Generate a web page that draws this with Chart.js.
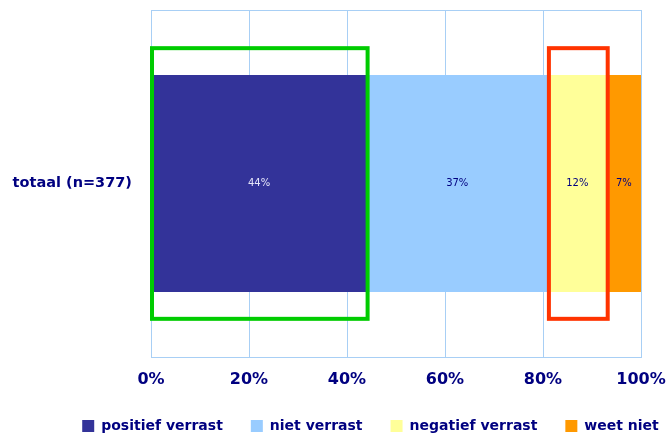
<!DOCTYPE html>
<html>
<head>
<meta charset="utf-8">
<script src="https://cdn.jsdelivr.net/npm/chart.js@4.4.1/dist/chart.umd.min.js"></script>
<style>
  html, body { margin: 0; padding: 0; background: #ffffff; }
  #wrap { width: 672px; height: 435px; }
</style>
</head>
<body>
<div id="wrap"><canvas id="c" width="672" height="435"></canvas></div>
<script>
// Survey answers, share of respondents (%)
const categories = ['totaal (n=377)'];
const seriesNames = ['positief verrast', 'niet verrast', 'negatief verrast', 'weet niet'];
const positiefVerrast = [44];
const nietVerrast = [37];
const negatiefVerrast = [12];
const weetNiet = [7];
const xTicks = [0, 20, 40, 60, 80, 100];

// Highlighted ranges on the value axis: [from, to]
const greenRange = [0, 44];
const redRange = [81, 93];

const NAVY = '#000080';
const FONT = 'DejaVu Sans';

const seriesValues = [positiefVerrast, nietVerrast, negatiefVerrast, weetNiet];
const seriesColors = ['#333399', '#99CCFF', '#FFFF99', '#FF9900'];
const labelColors = ['#E6E6FA', '#000080', '#000080', '#000080'];

// Writes each segment's value in its centre
const valueLabels = {
  id: 'valueLabels',
  afterDatasetsDraw(chart) {
    const ctx = chart.ctx;
    ctx.save();
    ctx.font = '10px ' + FONT;
    ctx.textAlign = 'center';
    ctx.textBaseline = 'middle';
    chart.data.datasets.forEach((ds, i) => {
      chart.getDatasetMeta(i).data.forEach((bar, j) => {
        const cx = (bar.x + bar.base) / 2;
        ctx.fillStyle = labelColors[i];
        ctx.fillText(ds.data[j] + '%', cx, bar.y);
      });
    });
    ctx.restore();
  }
};

// Outlined boxes around selected value ranges
const rangeBoxes = {
  id: 'rangeBoxes',
  afterDatasetsDraw(chart) {
    const ctx = chart.ctx;
    const xs = chart.scales.x;
    const ys = chart.scales.y;
    const band = (ys.bottom - ys.top) / categories.length;
    const yc = ys.getPixelForValue(0);
    const half = band * 0.39;
    const boxes = [[greenRange, '#00CC00'], [redRange, '#FF3300']];
    ctx.save();
    ctx.lineWidth = 4;
    boxes.forEach(([r, col]) => {
      const x0 = xs.getPixelForValue(r[0]) + 1;
      const x1 = xs.getPixelForValue(r[1]) + 1;
      ctx.strokeStyle = col;
      ctx.strokeRect(x0, yc - half, x1 - x0, half * 2);
    });
    ctx.restore();
  }
};

// Moves the legend row so it sits centred under the plot rather than the page
const legendShift = {
  id: 'legendShift',
  afterLayout(chart) {
    const shift = 50;
    chart.legend.left += shift;
    chart.legend.right += shift;
  }
};

new Chart(document.getElementById('c'), {
  type: 'bar',
  data: {
    labels: categories,
    datasets: seriesNames.map((name, i) => ({
      label: name,
      data: seriesValues[i],
      backgroundColor: seriesColors[i],
      borderWidth: 0,
      categoryPercentage: 1,
      barPercentage: 0.625
    }))
  },
  options: {
    indexAxis: 'y',
    responsive: false,
    animation: false,
    layout: { padding: { top: 10, right: 31, left: 0, bottom: -8 } },
    scales: {
      x: {
        stacked: true,
        min: 0,
        max: 100,
        afterBuildTicks(axis) { axis.ticks = xTicks.map(v => ({ value: v })); },
        afterFit(axis) {
          axis.height = 34;
          axis.paddingLeft = 0;
          axis.paddingRight = 0;
        },
        grid: { color: '#A8CFF5', drawTicks: false, lineWidth: 1 },
        border: { color: '#A8CFF5' },
        ticks: {
          color: NAVY,
          padding: 13,
          font: { family: FONT, size: 16, weight: 'bold' },
          callback: v => v + '%'
        }
      },
      y: {
        stacked: true,
        afterFit(axis) {
          axis.width = 151;
          axis.paddingTop = 0;
          axis.paddingBottom = 0;
        },
        grid: { color: '#A8CFF5', drawTicks: false, offset: true },
        border: { color: '#A8CFF5' },
        ticks: {
          color: NAVY,
          padding: 19,
          font: { family: FONT, size: 14.5, weight: 'bold' }
        }
      }
    },
    plugins: {
      legend: {
        position: 'bottom',
        labels: {
          color: NAVY,
          boxWidth: 12,
          boxHeight: 12,
          padding: 28,
          font: { family: FONT, size: 14, weight: 'bold' }
        }
      },
      tooltip: { enabled: false }
    }
  },
  plugins: [valueLabels, rangeBoxes, legendShift]
});
</script>
</body>
</html>
